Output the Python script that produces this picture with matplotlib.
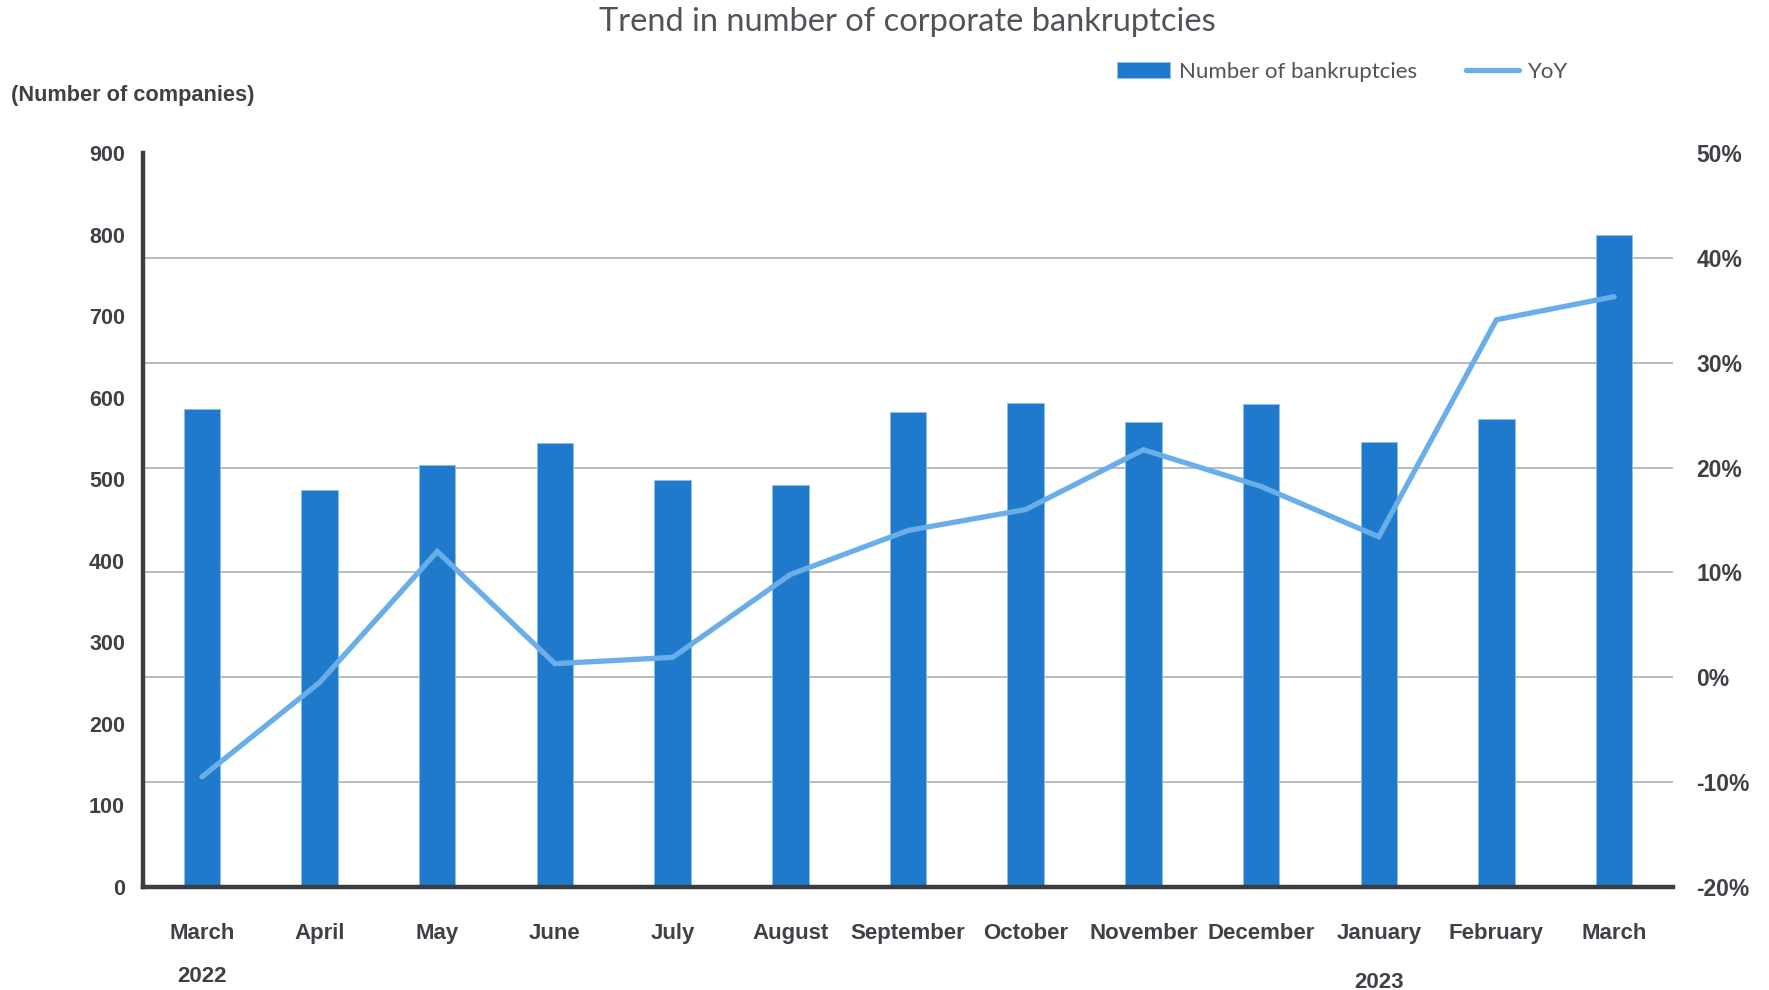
import matplotlib
matplotlib.use("Agg")
import matplotlib.pyplot as plt
from matplotlib.ticker import FuncFormatter, FixedLocator
import numpy as np

# Monthly data, March 2022 - March 2023
months = ["March", "April", "May", "June", "July", "August", "September",
          "October", "November", "December", "January", "February", "March"]
bankruptcies = [586, 487, 517, 544, 499, 493, 583, 594, 570, 592, 546, 574, 799]
yoy_pct = [-9.5, -0.5, 12.0, 1.3, 1.9, 9.8, 14.0, 16.0, 21.7, 18.2, 13.4, 34.1, 36.3]
year_labels = [(0, "2022", -0.122), (10, "2023", -0.130)]

count_ticks = list(range(0, 901, 100))
pct_ticks = list(range(-20, 51, 10))

BAR_COLOR = "#1f7acb"
LINE_COLOR = "#6aaee9"
TEXT_COLOR = "#3e4146"
GRID_COLOR = "#b8bbc0"
SPINE_COLOR = "#3a3d42"

bold_font = ["Liberation Sans", "DejaVu Sans"]
light_font = ["Lato", "DejaVu Sans"]

fig = plt.figure(figsize=(17.69, 9.90), dpi=100)
fig.patch.set_facecolor("white")
ax = fig.add_axes([143 / 1769, 1 - 887 / 990, (1673 - 143) / 1769, (887 - 153) / 990])

x = np.arange(len(months))
bars = ax.bar(x, bankruptcies, width=0.31, color=BAR_COLOR, edgecolor="#8cc0ef",
              linewidth=0.6, zorder=3, label="Number of bankruptcies")

ax.set_xlim(-0.5, len(months) - 0.5)
ax.set_ylim(0, 900)
ax.yaxis.set_major_locator(FixedLocator(count_ticks))
# horizontal guides follow the percentage scale (7 equal steps)
ax.yaxis.set_minor_locator(FixedLocator(np.linspace(0, 900, len(pct_ticks))))
ax.grid(which="minor", axis="y", color=GRID_COLOR, linewidth=1.4, zorder=0)
ax.grid(which="major", visible=False)
ax.tick_params(axis="y", which="both", length=0, pad=13, labelsize=15.5,
               labelcolor=TEXT_COLOR)
for lbl in ax.get_yticklabels():
    lbl.set_fontfamily(bold_font)
    lbl.set_fontweight("bold")

ax.set_xticks(x)
ax.set_xticklabels(months, fontfamily=bold_font, fontweight="bold", fontsize=16,
                   color=TEXT_COLOR)
ax.tick_params(axis="x", length=0, pad=26)

for side in ("top", "right"):
    ax.spines[side].set_visible(False)
for side in ("left", "bottom"):
    ax.spines[side].set_color(SPINE_COLOR)
    ax.spines[side].set_linewidth(3.2)
    ax.spines[side].set_zorder(4)

for xi, yr, ypos in year_labels:
    ax.text(xi, ypos, yr, transform=ax.get_xaxis_transform(), ha="center",
            va="center", fontsize=16, fontweight="bold", fontfamily=bold_font,
            color=TEXT_COLOR)

# year-on-year change on the secondary axis
ax2 = ax.twinx()
ax2.set_ylim(-20, 50)
ax2.set_yticks(pct_ticks)
ax2.yaxis.set_major_formatter(FuncFormatter(lambda v, _: f"{v:.0f}%"))
line, = ax2.plot(x, yoy_pct, color=LINE_COLOR, linewidth=3.8,
                 solid_capstyle="round", solid_joinstyle="miter", zorder=5,
                 label="YoY")
ax2.tick_params(axis="y", length=0, pad=17, labelsize=16.5, labelcolor=TEXT_COLOR)
for lbl in ax2.get_yticklabels():
    lbl.set_fontfamily(bold_font)
    lbl.set_fontweight("bold")
for side in ("top", "right", "left", "bottom"):
    ax2.spines[side].set_visible(False)

fig.text(907 / 1769, 1 - 22 / 990, "Trend in number of corporate bankruptcies",
         ha="center", va="center", fontsize=23.5, fontfamily=light_font,
         fontweight="normal", color="#505358")

fig.text(11 / 1769, 1 - 95 / 990, "(Number of companies)", ha="left",
         va="center", fontsize=15.7, fontweight="bold", fontfamily=bold_font,
         color=TEXT_COLOR)

fig.legend(handles=[bars, line], labels=["Number of bankruptcies", "YoY"],
           loc="center left", bbox_to_anchor=(1108 / 1769, 1 - 72 / 990),
           ncol=2, frameon=False,
           prop={"family": light_font, "weight": "normal", "size": 16},
           labelcolor="#505358", handlelength=2.4, handleheight=0.7,
           handletextpad=0.4, columnspacing=2.2, borderaxespad=0)

fig.savefig("out.png", dpi=100, facecolor="white")
